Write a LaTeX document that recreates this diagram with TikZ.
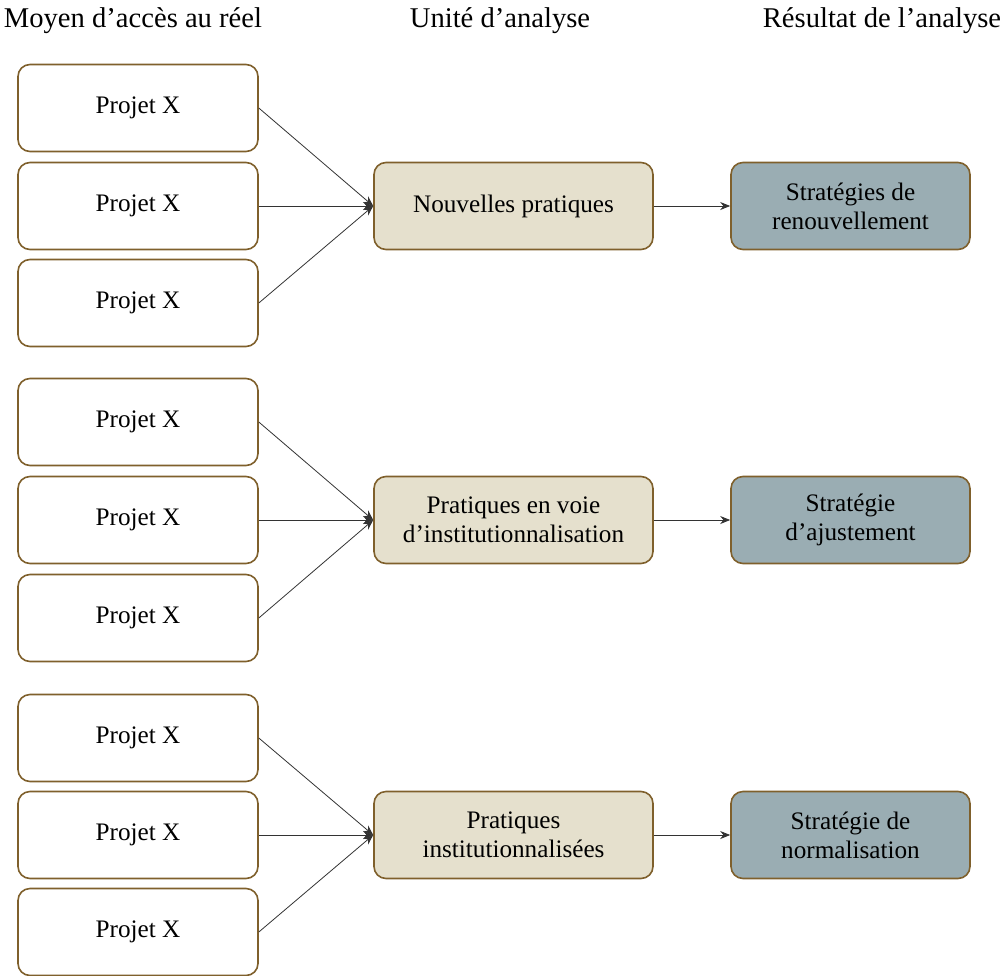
\documentclass[tikz,border=0pt]{standalone}
\usepackage{fontspec}
\setmainfont{Liberation Serif}
\usepackage{xcolor}
\usepackage{tikz}
\usetikzlibrary{shapes,arrows,arrows.meta,positioning,calc}
\definecolor{FrameBrown}{RGB}{127, 96, 44}
\definecolor{UnitBeige}{RGB}{229, 224, 205}
\definecolor{ResultGray}{RGB}{154, 173, 179}
\tikzstyle{projet} = [rectangle, rounded corners=6pt, minimum width=120pt, minimum height=43.5pt, text centered, align=center, draw=FrameBrown, fill=white, thick]
\tikzstyle{unite} = [rectangle, rounded corners=6pt, minimum width=139.5pt, minimum height=43.5pt, text centered, align=center, draw=FrameBrown, fill=UnitBeige, thick]
\tikzstyle{resultat} = [rectangle, rounded corners=6pt, minimum width=119.5pt, minimum height=43.5pt, text centered, align=center, draw=FrameBrown, fill=ResultGray, thick]
\tikzstyle{titre} = [font=\fontsize{14.3}{16}\selectfont]
\tikzstyle{fleche} = [draw=black!80, -{Stealth[length=5pt,width=4pt]}]
\begin{document}
\begin{tikzpicture}[x=0.5pt, y=-0.5pt, every node/.style={font=\fontsize{12.6}{14.6}\selectfont}]
\useasboundingbox (0,0) rectangle (1001,975);

% En-têtes
\node (h1) [titre] at (133,21) {Moyen d’accès au réel};
\node (h2) [titre] at (500,21) {Unité d’analyse};
\node (h3) [titre] at (882,21) {Résultat de l’analyse};

% Groupe 1
\node (p11) [projet] at (138,108) {Projet X};
\node (p12) [projet] at (138,206) {Projet X};
\node (p13) [projet] at (138,303) {Projet X};
\node (u1) [unite] at (513.5,206) {Nouvelles pratiques};
\node (r1) [resultat] at (850.5,206) {Stratégies de\\renouvellement};

% Groupe 2
\node (p21) [projet] at (138,422) {Projet X};
\node (p22) [projet] at (138,520) {Projet X};
\node (p23) [projet] at (138,618) {Projet X};
\node (u2) [unite] at (513.5,520) {Pratiques en voie\\d’institutionnalisation};
\node (r2) [resultat] at (850.5,520) {Stratégie\\d’ajustement};

% Groupe 3
\node (p31) [projet] at (138,738) {Projet X};
\node (p32) [projet] at (138,835) {Projet X};
\node (p33) [projet] at (138,932) {Projet X};
\node (u3) [unite] at (513.5,835) {Pratiques\\institutionnalisées};
\node (r3) [resultat] at (850.5,835) {Stratégie de\\normalisation};

% Flèches
\draw [fleche] (p11.east) -- (u1.west);
\draw [fleche] (p12.east) -- (u1.west);
\draw [fleche] (p13.east) -- (u1.west);
\draw [fleche] (u1) -- (r1);
\draw [fleche] (p21.east) -- (u2.west);
\draw [fleche] (p22.east) -- (u2.west);
\draw [fleche] (p23.east) -- (u2.west);
\draw [fleche] (u2) -- (r2);
\draw [fleche] (p31.east) -- (u3.west);
\draw [fleche] (p32.east) -- (u3.west);
\draw [fleche] (p33.east) -- (u3.west);
\draw [fleche] (u3) -- (r3);

\end{tikzpicture}
\end{document}
